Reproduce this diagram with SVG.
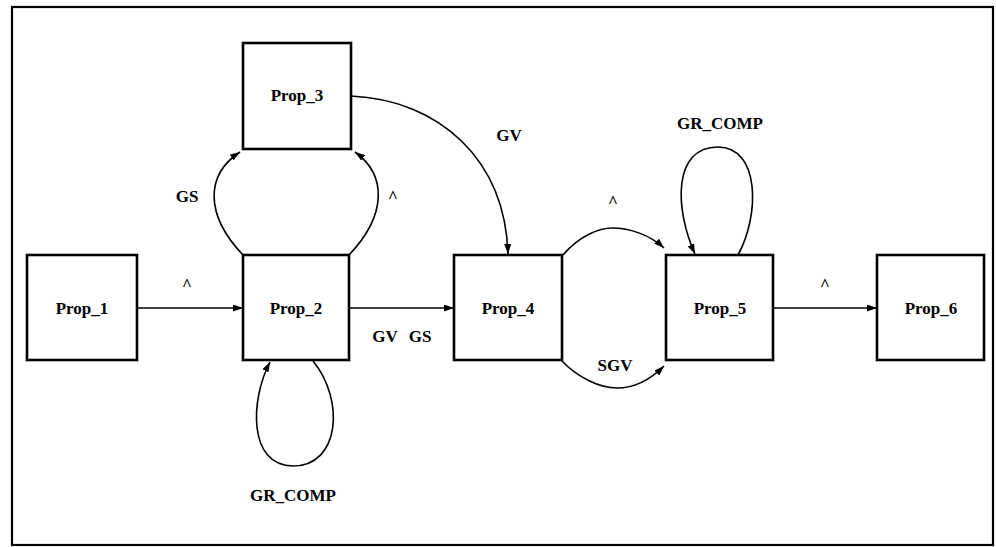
<svg xmlns="http://www.w3.org/2000/svg" width="996" height="547" viewBox="0 0 996 547">
<style>
.box{fill:#fff;stroke:#000;stroke-width:2.6}
.lbl{font-family:"Liberation Serif",serif;font-weight:bold;font-size:17px;text-anchor:middle;fill:#000}
.edge{fill:none;stroke:#000;stroke-width:1.6;marker-end:url(#ah)}
</style>
<defs>
<marker id="ah" markerUnits="userSpaceOnUse" markerWidth="11" markerHeight="7" refX="10" refY="3.5" orient="auto">
<path d="M0,0 L10,3.5 L0,7 z" fill="#000"/>
</marker>
</defs>
<rect x="12" y="7" width="981" height="538" fill="#fff" stroke="#000" stroke-width="2.2"/>
<g id="connectors">
<path class="edge" d="M137,308 L243,308"/>
<path class="edge" d="M349,308 L454,308"/>
<path class="edge" d="M773,308 L877,308"/>
<path class="edge" d="M243,255 C205,215 205,175 240,152"/>
<path class="edge" d="M349,255 C387,215 387,175 355,152"/>
<path class="edge" d="M351,96 C440,100 505,160 508,254"/>
<path class="edge" d="M563,255 C580,235 600,228 612,228 C630,228 650,235 664,248"/>
<path class="edge" d="M561,360 C578,378 600,388 617,388 C635,388 650,380 664,366"/>
<path class="edge" d="M738,255 C760,215 760,147 718,147 C672,147 675,210 695,254"/>
<path class="edge" d="M313,361 C345,400 340,466 293,466 C248,466 250,400 270,362"/>
<text class="lbl" x="187" y="290">^</text>
<text class="lbl" x="385" y="342">GV</text>
<text class="lbl" x="420" y="342">GS</text>
<text class="lbl" x="825" y="290">^</text>
<text class="lbl" x="187" y="202">GS</text>
<text class="lbl" x="393" y="202">^</text>
<text class="lbl" x="509" y="141">GV</text>
<text class="lbl" x="613" y="207">^</text>
<text class="lbl" x="615" y="371">SGV</text>
<text class="lbl" x="720" y="129">GR_COMP</text>
<text class="lbl" x="293" y="501">GR_COMP</text>
</g>
<g id="prop1"><rect class="box" x="27" y="255" width="110" height="105"/><text class="lbl" x="82" y="314">Prop_1</text></g>
<g id="prop2"><rect class="box" x="243" y="255" width="106" height="105"/><text class="lbl" x="296" y="314">Prop_2</text></g>
<g id="prop3"><rect class="box" x="243" y="43" width="108" height="106"/><text class="lbl" x="297" y="101">Prop_3</text></g>
<g id="prop4"><rect class="box" x="454" y="255" width="108" height="105"/><text class="lbl" x="508" y="314">Prop_4</text></g>
<g id="prop5"><rect class="box" x="666" y="255" width="107" height="105"/><text class="lbl" x="720" y="314">Prop_5</text></g>
<g id="prop6"><rect class="box" x="877" y="255" width="107" height="105"/><text class="lbl" x="931" y="314">Prop_6</text></g>
</svg>
